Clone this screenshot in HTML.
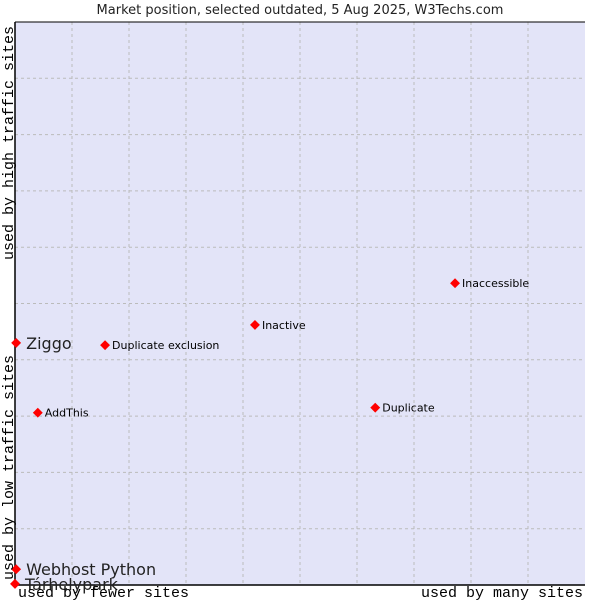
<!DOCTYPE html>
<html><head><meta charset="utf-8"><style>
body{margin:0;background:#fff;width:600px;height:600px;overflow:hidden}
svg{font-family:"DejaVu Sans","Liberation Sans",sans-serif}
</style></head><body>
<svg id="chart" width="600" height="600">
<text x="300" y="14" text-anchor="middle" font-size="13" fill="#222">Market position, selected outdated, 5 Aug 2025, W3Techs.com</text>
<rect x="15" y="22" width="570" height="563" fill="#e3e4f8"/>
<g id="grid"></g>
<line x1="15" y1="22" x2="15" y2="585" stroke="#000" stroke-width="1.5"/>
<line x1="15" y1="585" x2="585" y2="585" stroke="#000" stroke-width="1.5"/>
<line x1="15" y1="22" x2="585" y2="22" stroke="#000" stroke-width="1"/>
<g id="points"></g>
<text x="18" y="597" font-family="Liberation Mono,monospace" font-size="15" fill="#000">used by fewer sites</text>
<text x="583" y="597" text-anchor="end" font-family="Liberation Mono,monospace" font-size="15" fill="#000">used by many sites</text>
<text transform="translate(13,580) rotate(-90)" font-family="Liberation Mono,monospace" font-size="15" fill="#000">used by low traffic sites</text>
<text transform="translate(13,260) rotate(-90)" font-family="Liberation Mono,monospace" font-size="15" fill="#000">used by high traffic sites</text>
</svg>
<script>
const names=["Ziggo","Duplicate exclusion","Inactive","Inaccessible","AddThis","Duplicate","Webhost Python","Tárhelypark"];
const xValues=[0.2,15.8,42.1,77.2,4,63.2,0.2,0];
const yValues=[43.0,42.6,46.2,53.6,30.6,31.5,2.8,0.2];
const bigLabel=[true,false,false,false,false,false,true,true];
const NS="http://www.w3.org/2000/svg";
const X0=15,X1=585,Y0=585,Y1=22;
const sx=v=>X0+v/100*(X1-X0);
const sy=v=>Y0-v/100*(Y0-Y1);
const grid=document.getElementById('grid');
for(let i=1;i<10;i++){
  const v=document.createElementNS(NS,'line');
  
  
  v.setAttribute('x1',sx(i*10));v.setAttribute('x2',sx(i*10));v.setAttribute('y1',Y1);v.setAttribute('y2',Y0);
  v.setAttribute('stroke','#bbb');v.setAttribute('stroke-dasharray','3,3');
  grid.appendChild(v);
  const h=document.createElementNS(NS,'line');
  
  
  h.setAttribute('y1',sy(i*10));h.setAttribute('y2',sy(i*10));h.setAttribute('x1',X0);h.setAttribute('x2',X1);
  h.setAttribute('stroke','#bbb');h.setAttribute('stroke-dasharray','3,3');
  grid.appendChild(h);
}
const pts=document.getElementById('points');
names.forEach((n,i)=>{
  const x=sx(xValues[i]),y=sy(yValues[i]);
  const d=document.createElementNS(NS,'rect');
  
  
  d.setAttribute('x',x-3.5);d.setAttribute('y',y-3.5);d.setAttribute('width',7);d.setAttribute('height',7);
  d.setAttribute('fill','#f00');d.setAttribute('transform',`rotate(45 ${x} ${y})`);
  pts.appendChild(d);
  const t=document.createElementNS(NS,'text');
  
  
  const big=bigLabel[i];
  t.setAttribute('x',x+(big?10:7));t.setAttribute('y',y+(big?6:4));
  t.setAttribute('font-size',big?16:11);t.setAttribute('fill',big?'#222':'#000');
  t.textContent=n;
  pts.appendChild(t);
});
</script>
</body></html>
